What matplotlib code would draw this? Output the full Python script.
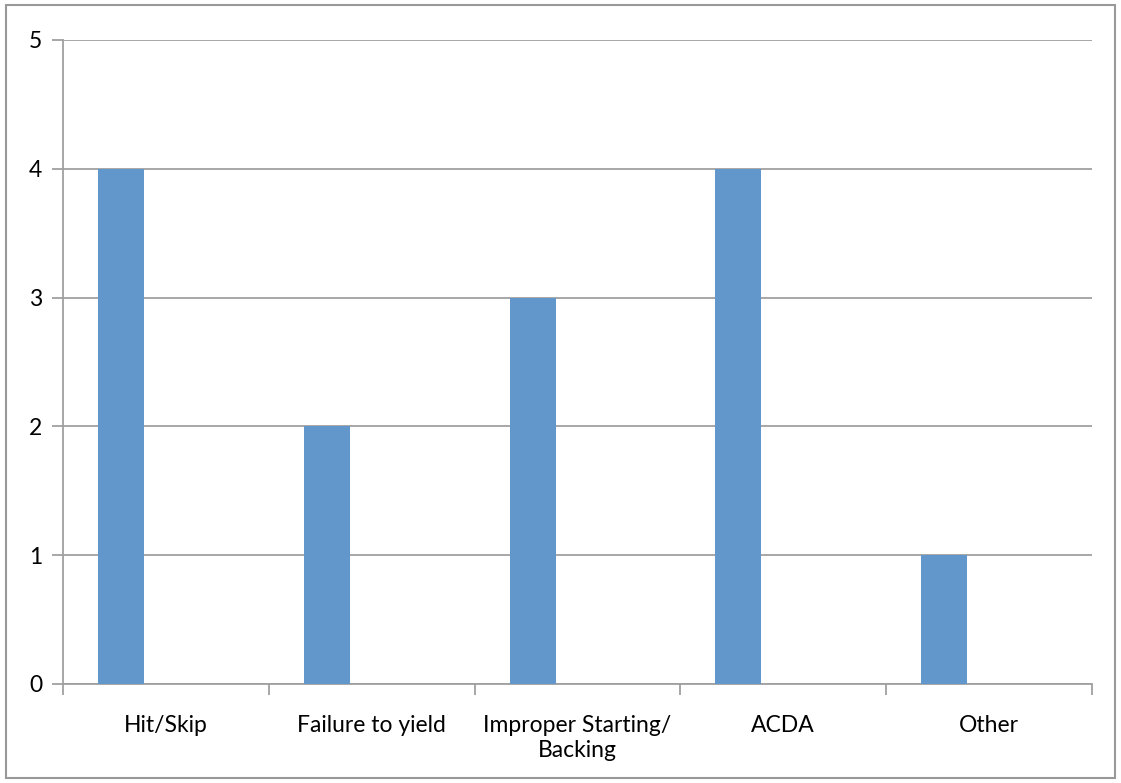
import matplotlib
matplotlib.use('Agg')
import matplotlib.pyplot as plt
import numpy as np
from matplotlib.patches import Rectangle

categories = ['Hit/Skip', 'Failure to yield', 'Improper Starting/\nBacking', 'ACDA', 'Other']
counts = [4, 2, 3, 4, 1]

plt.rcParams['font.family'] = ['Lato', 'DejaVu Sans']

fig = plt.figure(figsize=(11.21, 7.83), dpi=100)
# axes box in pixels: left 63, right 1092, top 40, bottom 684
W, H = 1121.0, 783.0
ax = fig.add_axes([63 / W, 1 - 684 / H, (1092 - 63) / W, (684 - 40) / H])

grey = '#a0a0a0'
x = np.arange(len(categories))
ax.bar(x - 0.33, counts, width=0.2235, align='edge', color='#6197cb', zorder=3)

ax.set_xlim(-0.5, len(categories) - 0.5)
ax.set_ylim(0, 5)
ax.set_yticks(range(0, 6))
ax.yaxis.grid(True, color=grey, linewidth=1.3, zorder=0)

# ticks at category boundaries, labels at centres
ax.set_xticks(np.arange(-0.5, len(categories)), minor=False)
ax.set_xticklabels([])
ax.set_xticks(x, minor=True)
ax.set_xticklabels(categories, minor=True, fontsize=16.5, linespacing=1.25)
ax.tick_params(axis='x', which='minor', length=0, pad=22)
ax.tick_params(axis='x', which='major', length=8, width=1.3, color=grey, direction='out')
ax.tick_params(axis='y', length=8, width=1.3, color=grey, direction='out', pad=7, labelsize=16.5)

for s in ['top', 'right']:
    ax.spines[s].set_visible(False)
for s in ['left', 'bottom']:
    ax.spines[s].set_color(grey)
    ax.spines[s].set_linewidth(1.3)

# outer frame of the chart
fig.patches.append(Rectangle((6 / W, 5 / H), 1 - 12 / W, 1 - 10 / H, transform=fig.transFigure,
                             fill=False, edgecolor='#999999', linewidth=1.5))

fig.savefig('out.png', dpi=100)
